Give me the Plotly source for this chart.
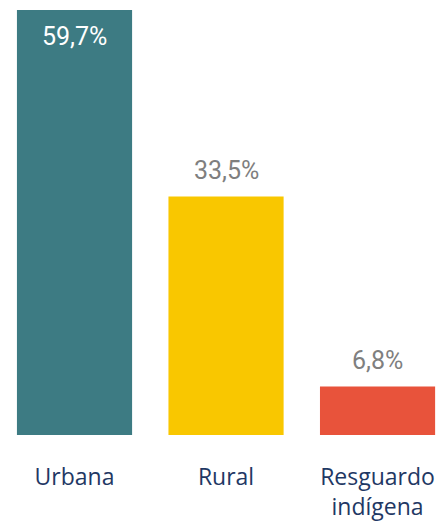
import plotly.graph_objects as go

categories = ["Urbana", "Rural", "Resguardo<br>indígena"]
values = [59.7, 33.5, 6.8]
value_labels = ["59,7%", "33,5%", "6,8%"]
colors = ["#3d7b83", "#f9c700", "#e8533b"]
label_place = ["inside", "outside", "outside"]

fig = go.Figure(go.Bar(
    x=categories, y=values, marker=dict(color=colors, line=dict(width=0)),
    width=0.76, hoverinfo="skip",
))

for c, v, t, p in zip(categories, values, value_labels, label_place):
    if p == "inside":
        fig.add_annotation(x=c, y=v, text=t, showarrow=False, yanchor="top", yshift=-10,
                           font=dict(family="Roboto", size=25, color="white"))
    else:
        fig.add_annotation(x=c, y=v, text=t, showarrow=False, yanchor="bottom", yshift=10,
                           font=dict(family="Roboto", size=25, color="#7f7f7f"))

fig.update_layout(
    width=440, height=518, margin=dict(l=0, r=0, t=0, b=91, autoexpand=False),
    paper_bgcolor="white", plot_bgcolor="white", showlegend=False,
    xaxis=dict(range=[-0.439, 2.465], showgrid=False, zeroline=False, showline=False, ticks="",
               automargin=False,
               tickfont=dict(family="Open Sans", size=23, color="#1f3864"), ticklabelstandoff=26),
    yaxis=dict(range=[0, 59.98], visible=False, automargin=False),
)
fig.write_html("out.html")
